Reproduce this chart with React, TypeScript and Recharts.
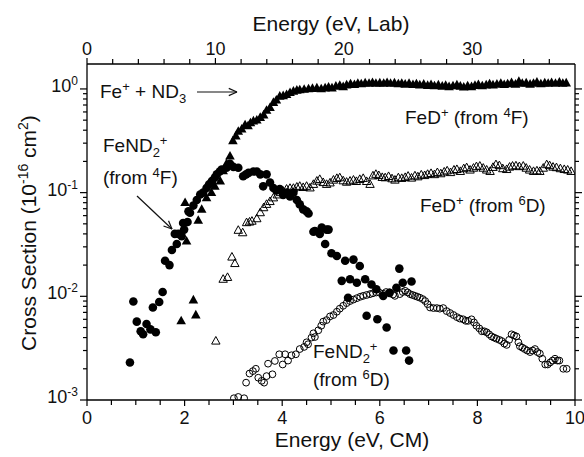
import React from 'react';
import { ScatterChart, Scatter, XAxis, YAxis } from 'recharts';

const FONT = '"Liberation Sans", Arial, Helvetica, sans-serif';

// ---------- data (Energy in eV CM, cross section in 1e-16 cm^2) ----------
// FeD+ from 4F (filled triangles)
const fedQuartetE = [1.93, 2.01, 2.04, 2.18, 2.23, 2.28, 2.35, 2.45, 2.55, 2.62, 2.73, 2.79, 2.86, 2.93, 2.99, 3.05, 3.10, 3.17, 3.24, 3.30, 3.35, 3.41, 3.48, 3.55, 3.62, 3.68, 3.75, 3.82, 3.88, 3.95, 4.02, 4.09, 4.16, 4.23, 4.30, 4.36, 4.45, 4.54, 4.62, 4.71,
  4.80, 4.88, 4.95, 5.02, 5.10, 5.18, 5.25, 5.32, 5.40, 5.48, 5.55, 5.62, 5.70, 5.78, 5.85, 5.92, 6.00, 6.08, 6.15, 6.22, 6.30, 6.38, 6.45, 6.52, 6.60, 6.68, 6.75, 6.82, 6.90, 6.98, 7.05, 7.12, 7.20, 7.28, 7.35, 7.42, 7.50, 7.58, 7.65, 7.72, 7.80, 7.88, 7.95, 8.02, 8.10, 8.18, 8.25, 8.32, 8.40, 8.48, 8.55, 8.62, 8.70, 8.78, 8.85, 8.92, 9.00, 9.08, 9.15, 9.22, 9.30, 9.38, 9.45, 9.52, 9.60, 9.68, 9.75, 9.82];
const fedQuartetSigma = [0.0058, 0.080, 0.034, 0.0092, 0.0066, 0.054, 0.069, 0.089, 0.10, 0.115, 0.129, 0.162, 0.19, 0.225, 0.316, 0.35, 0.39, 0.41, 0.45, 0.44, 0.47, 0.49, 0.50, 0.53, 0.56, 0.62, 0.66, 0.74, 0.78, 0.85, 0.86, 0.88, 0.92, 0.95, 0.97, 0.98, 0.99, 1.00, 1.01, 1.02,
  1.00, 1.02, 1.04, 1.02, 1.06, 1.08, 1.05, 1.09, 1.12, 1.10, 1.13, 1.12, 1.14, 1.13, 1.15, 1.13, 1.14, 1.13, 1.15, 1.13, 1.14, 1.12, 1.13, 1.11, 1.13, 1.10, 1.12, 1.09, 1.11, 1.08, 1.10, 1.07, 1.09, 1.06, 1.08, 1.05, 1.07, 1.09, 1.06, 1.04, 1.07, 1.05, 1.08, 1.10, 1.07, 1.09, 1.12, 1.09, 1.11, 1.13, 1.10, 1.12, 1.15, 1.11, 1.18, 1.13, 1.14, 1.11, 1.13, 1.16, 1.12, 1.14, 1.13, 1.15, 1.13, 1.16, 1.13, 1.14];

// FeD+ from 6D (open triangles)
const fedSextetE = [2.64, 2.79, 2.88, 2.97, 3.03, 3.10, 3.19, 3.27, 3.33, 3.38, 3.48, 3.55, 3.62, 3.68, 3.75, 3.82, 3.90, 3.96, 4.02, 4.09, 4.16, 4.23, 4.30, 4.36, 4.43, 4.50, 4.57, 4.64, 4.71, 4.77, 4.84, 4.91, 4.98, 5.05, 5.12, 5.18, 5.25, 5.32, 5.39, 5.46, 5.52, 5.59, 5.66, 5.73, 5.80, 5.86, 5.92, 5.98, 6.05, 6.11, 6.18, 6.25, 6.31, 6.38, 6.45, 6.52, 6.58, 6.65, 6.72, 6.78, 6.85, 6.92, 6.98, 7.05, 7.12, 7.18, 7.25, 7.32, 7.38, 7.45, 7.52, 7.58, 7.65, 7.72, 7.78, 7.85, 7.92, 7.98, 8.05, 8.12, 8.19, 8.26, 8.32, 8.38, 8.45, 8.52, 8.60, 8.66, 8.72, 8.79, 8.86, 8.94, 9.00, 9.07, 9.15, 9.22, 9.28, 9.35, 9.42, 9.48, 9.55, 9.62, 9.70, 9.78, 9.85, 9.92];
const fedSextetSigma = [0.0037, 0.0146, 0.0152, 0.0239, 0.0207, 0.0433, 0.041, 0.0513, 0.052, 0.053, 0.056, 0.064, 0.0715, 0.077, 0.082, 0.089, 0.095, 0.100, 0.103, 0.108, 0.110, 0.110, 0.113, 0.115, 0.112, 0.115, 0.111, 0.120, 0.129, 0.134, 0.125, 0.120, 0.124, 0.132, 0.137, 0.139, 0.130, 0.126, 0.129, 0.132, 0.128, 0.134, 0.137, 0.128, 0.120, 0.145, 0.150, 0.146, 0.140, 0.139, 0.143, 0.136, 0.132, 0.139, 0.137, 0.140, 0.144, 0.138, 0.145, 0.142, 0.148, 0.146, 0.150, 0.153, 0.149, 0.156, 0.152, 0.158, 0.162, 0.156, 0.165, 0.167, 0.160, 0.170, 0.174, 0.165, 0.172, 0.178, 0.180, 0.172, 0.165, 0.160, 0.175, 0.186, 0.182, 0.170, 0.167, 0.176, 0.180, 0.181, 0.178, 0.180, 0.172, 0.165, 0.160, 0.162, 0.160, 0.172, 0.186, 0.182, 0.176, 0.174, 0.170, 0.167, 0.165, 0.160];

// FeND2+ from 4F (filled circles)
const fend2QuartetE = [0.88, 0.95, 1.02, 1.10, 1.15, 1.22, 1.30, 1.35, 1.41, 1.48, 1.55, 1.60, 1.69, 1.74, 1.80, 1.84, 1.87, 1.94, 1.97, 1.99, 2.06, 2.08, 2.11, 2.18, 2.25, 2.32, 2.38, 2.45, 2.50, 2.56, 2.62, 2.66, 2.72, 2.76, 2.86, 2.93, 3.00, 3.10, 3.20, 3.26, 3.31, 3.41, 3.48, 3.55, 3.61, 3.68, 3.75, 3.82, 3.88, 3.95, 4.02, 4.09, 4.16, 4.23, 4.30, 4.36, 4.43, 4.50, 4.54, 4.64, 4.67, 4.77, 4.81, 4.88, 4.91, 4.95, 5.01, 5.12, 5.22, 5.29, 5.35, 5.39, 5.46, 5.53, 5.59, 5.70, 5.73, 5.83, 5.93, 5.95, 6.07, 6.14, 6.20, 6.28, 6.34, 6.40, 6.47, 6.54, 6.60, 6.65];
const fend2QuartetSigma = [0.0023, 0.0089, 0.0057, 0.0046, 0.0043, 0.0054, 0.0048, 0.0078, 0.0045, 0.0088, 0.011, 0.022, 0.020, 0.028, 0.040, 0.032, 0.040, 0.038, 0.051, 0.044, 0.052, 0.066, 0.064, 0.075, 0.085, 0.096, 0.100, 0.111, 0.120, 0.129, 0.140, 0.150, 0.160, 0.167, 0.174, 0.190, 0.177, 0.174, 0.144, 0.150, 0.155, 0.160, 0.160, 0.150, 0.115, 0.150, 0.125, 0.111, 0.105, 0.108, 0.095, 0.100, 0.092, 0.100, 0.085, 0.077, 0.069, 0.066, 0.063, 0.042, 0.0426, 0.040, 0.046, 0.032, 0.044, 0.044, 0.026, 0.0245, 0.0141, 0.022, 0.0097, 0.0146, 0.0226, 0.0135, 0.0196, 0.0146, 0.0065, 0.013, 0.0117, 0.006, 0.0101, 0.005, 0.0108, 0.003, 0.0121, 0.0185, 0.0135, 0.003, 0.0024, 0.0139];

// FeND2+ from 6D (open circles)
const fend2SextetE = [3.01, 3.10, 3.22, 3.26, 3.33, 3.40, 3.46, 3.51, 3.58, 3.63, 3.68, 3.71, 3.80, 3.85, 3.94, 4.01, 4.06, 4.12, 4.19, 4.28, 4.36, 4.45, 4.50, 4.53, 4.60, 4.64, 4.67, 4.74, 4.80, 4.84, 4.91, 4.98, 5.05, 5.12, 5.18, 5.25, 5.32, 5.39, 5.46, 5.53, 5.60, 5.66, 5.73, 5.80, 5.86, 5.93, 6.00, 6.07, 6.13, 6.20, 6.27, 6.31, 6.41, 6.47, 6.52, 6.57, 6.62, 6.67, 6.72, 6.77, 6.82, 6.88, 6.93, 6.98, 7.03, 7.10, 7.17, 7.23, 7.30, 7.37, 7.44, 7.51, 7.58, 7.64, 7.71, 7.76, 7.81, 7.88, 7.93, 7.98, 8.04, 8.09, 8.14, 8.19, 8.24, 8.29, 8.34, 8.39, 8.45, 8.50, 8.55, 8.60, 8.65, 8.70, 8.75, 8.80, 8.84, 8.87, 8.92, 8.97, 9.02, 9.08, 9.13, 9.18, 9.23, 9.28, 9.33, 9.39, 9.44, 9.49, 9.54, 9.59, 9.64, 9.68, 9.76, 9.83];
const fend2SextetSigma = [0.00104, 0.00107, 0.00104, 0.00147, 0.0018, 0.0019, 0.0020, 0.00164, 0.00153, 0.00147, 0.0017, 0.00224, 0.00177, 0.00238, 0.00276, 0.0022, 0.00276, 0.0024, 0.0027, 0.00276, 0.0031, 0.00325, 0.0036, 0.00345, 0.0040, 0.0044, 0.00405, 0.0047, 0.0052, 0.0057, 0.0059, 0.0064, 0.0066, 0.0071, 0.0076, 0.0081, 0.0086, 0.0090, 0.0093, 0.0096, 0.0099, 0.0101, 0.0103, 0.0105, 0.0107, 0.0109, 0.0108, 0.0106, 0.0110, 0.0109, 0.0104, 0.0101, 0.0105, 0.0110, 0.0113, 0.0109, 0.0105, 0.0103, 0.0101, 0.0099, 0.0097, 0.0094, 0.0090, 0.0084, 0.0078, 0.0077, 0.0077, 0.0076, 0.0077, 0.0072, 0.0069, 0.0066, 0.0063, 0.0061, 0.0060, 0.0058, 0.0058, 0.0060, 0.0056, 0.0052, 0.0049, 0.0046, 0.0046, 0.0045, 0.0043, 0.0041, 0.0040, 0.0039, 0.0038, 0.0037, 0.0035, 0.0034, 0.0038, 0.0043, 0.0042, 0.0041, 0.0036, 0.0033, 0.0032, 0.0031, 0.0030, 0.0029, 0.0030, 0.0031, 0.0029, 0.0028, 0.0025, 0.0022, 0.0022, 0.0023, 0.0024, 0.0025, 0.0024, 0.0024, 0.0020, 0.0020];

// axes
const cmTicks = [0, 0.5, 1, 1.5, 2, 2.5, 3, 3.5, 4, 4.5, 5, 5.5, 6, 6.5, 7, 7.5, 8, 8.5, 9, 9.5, 10];
const cmLabels = [0, 2, 4, 6, 8, 10];
const labTicks = [0, 2, 4, 6, 8, 10, 12, 14, 16, 18, 20, 22, 24, 26, 28, 30, 32, 34, 36];
const labLabels = [0, 10, 20, 30];
const decades = [0.001, 0.01, 0.1, 1];
const Y_MIN = 0.001;
const Y_MAX = 1.74;
const LAB_PER_CM = 3.8;

const yTicks: number[] = [];
decades.forEach((d) => {
  for (let m = 1; m <= 9; m++) {
    const v = Number((d * m).toPrecision(3));
    if (v <= Y_MAX) yTicks.push(v);
  }
});

const zip = (xs: number[], ys: number[]) => xs.map((x, i) => ({ x, y: ys[i] }));
const fedQuartet = zip(fedQuartetE, fedQuartetSigma);
const fedSextet = zip(fedSextetE, fedSextetSigma);
const fend2Quartet = zip(fend2QuartetE, fend2QuartetSigma);
const fend2Sextet = zip(fend2SextetE, fend2SextetSigma);
// same points expressed in lab-frame energy, used only to drive the top axis
const fedQuartetLab = fedQuartet.map((d) => ({ x: d.x * LAB_PER_CM, y: d.y }));

const isMajorLog = (v: number) => Math.abs(Math.log10(v) - Math.round(Math.log10(v))) < 1e-6;

const LeftTick = (p: any) => {
  const { x, y, payload } = p;
  const v = payload.value;
  const major = isMajorLog(v);
  const e = Math.round(Math.log10(v));
  return (
    <g>
      <line x1={x} x2={x - (major ? 7 : 4)} y1={y} y2={y} stroke="#000" strokeWidth={1.2} />
      {major && (
        <text x={x - 9} y={y + 3} textAnchor="end" fontFamily={FONT} fontSize={18} fill="#111">
          10<tspan dy={-7} fontSize={12}>{e}</tspan>
        </text>
      )}
    </g>
  );
};

const RightTick = (p: any) => {
  const { x, y, payload } = p;
  const major = isMajorLog(payload.value);
  return <line x1={x} x2={x + (major ? 7 : 4)} y1={y} y2={y} stroke="#000" strokeWidth={1.2} />;
};

const BottomTick = (p: any) => {
  const { x, y, payload } = p;
  const v = payload.value;
  const lab = cmLabels.includes(v);
  return (
    <g>
      <line x1={x} x2={x} y1={y} y2={y + (lab ? 6 : 5)} stroke="#000" strokeWidth={1.2} />
      {lab && (
        <text x={x} y={y + 24} textAnchor="middle" fontFamily={FONT} fontSize={18} fill="#111">
          {v}
        </text>
      )}
    </g>
  );
};

const TopTick = (p: any) => {
  const { x, y, payload } = p;
  const v = payload.value;
  const lab = labLabels.includes(v);
  return (
    <g>
      <line x1={x} x2={x} y1={y} y2={y - (lab ? 6 : 5)} stroke="#000" strokeWidth={1.2} />
      {lab && (
        <text x={x} y={y - 9} textAnchor="middle" fontFamily={FONT} fontSize={18} fill="#111">
          {v}
        </text>
      )}
    </g>
  );
};

const FilledTriangle = (p: any) => (
  <path d={`M${p.cx},${p.cy - 5.2} L${p.cx + 4.8},${p.cy + 3.4} L${p.cx - 4.8},${p.cy + 3.4} Z`} fill="#000" />
);
const OpenTriangle = (p: any) => (
  <path d={`M${p.cx},${p.cy - 4.6} L${p.cx + 4.2},${p.cy + 3.0} L${p.cx - 4.2},${p.cy + 3.0} Z`} fill="none" stroke="#000" strokeWidth={1} />
);
const FilledCircle = (p: any) => <circle cx={p.cx} cy={p.cy} r={4.3} fill="#000" />;
const OpenCircle = (p: any) => <circle cx={p.cx} cy={p.cy} r={3.4} fill="none" stroke="#000" strokeWidth={1} />;
const NoMark = () => <g />;

const T = (props: any) => <text fontFamily={FONT} fill="#111" {...props} />;

const Arrow = ({ x1, y1, x2, y2 }: any) => {
  const a = Math.atan2(y2 - y1, x2 - x1);
  const L = 9;
  const w = 0.42;
  return (
    <g stroke="#111" strokeWidth={1.2} fill="none">
      <line x1={x1} y1={y1} x2={x2} y2={y2} />
      <line x1={x2} y1={y2} x2={x2 - L * Math.cos(a - w)} y2={y2 - L * Math.sin(a - w)} />
      <line x1={x2} y1={y2} x2={x2 - L * Math.cos(a + w)} y2={y2 - L * Math.sin(a + w)} />
    </g>
  );
};

export default function App() {
  return (
    <div style={{ position: 'absolute', left: 0, top: 0, width: 584, height: 457, background: '#fff' }}>
      <ScatterChart width={584} height={457} margin={{ top: 0, right: 0, bottom: 0, left: 0 }}>
        <XAxis
          xAxisId="bottom"
          dataKey="x"
          type="number"
          domain={[0, 10]}
          ticks={cmTicks}
          interval={0}
          height={57}
          tickSize={0}
          tickMargin={0}
          tickLine={false}
          tick={<BottomTick />}
          axisLine={{ stroke: '#000', strokeWidth: 1.3 }}
          allowDataOverflow
        />
        <XAxis
          xAxisId="top"
          dataKey="x"
          orientation="top"
          type="number"
          domain={[0, 10 * LAB_PER_CM]}
          ticks={labTicks}
          interval={0}
          height={64}
          tickSize={0}
          tickMargin={0}
          tickLine={false}
          tick={<TopTick />}
          axisLine={{ stroke: '#000', strokeWidth: 1.3 }}
          allowDataOverflow
        />
        <YAxis
          yAxisId="left"
          dataKey="y"
          type="number"
          scale="log"
          domain={[Y_MIN, Y_MAX]}
          ticks={yTicks}
          interval={0}
          width={87}
          tickSize={0}
          tickMargin={0}
          tickLine={false}
          tick={<LeftTick />}
          axisLine={{ stroke: '#000', strokeWidth: 1.3 }}
          allowDataOverflow
        />
        <YAxis
          yAxisId="right"
          dataKey="y"
          orientation="right"
          type="number"
          scale="log"
          domain={[Y_MIN, Y_MAX]}
          ticks={yTicks}
          interval={0}
          width={9}
          tickSize={0}
          tickMargin={0}
          tickLine={false}
          tick={<RightTick />}
          axisLine={{ stroke: '#000', strokeWidth: 1.3 }}
          allowDataOverflow
        />
        <Scatter data={fedQuartetLab} xAxisId="top" yAxisId="right" shape={NoMark} isAnimationActive={false} />
        <Scatter data={fend2Sextet} xAxisId="bottom" yAxisId="left" shape={OpenCircle} isAnimationActive={false} />
        <Scatter data={fedSextet} xAxisId="bottom" yAxisId="left" shape={OpenTriangle} isAnimationActive={false} />
        <Scatter data={fend2Quartet} xAxisId="bottom" yAxisId="left" shape={FilledCircle} isAnimationActive={false} />
        <Scatter data={fedQuartet} xAxisId="bottom" yAxisId="left" shape={FilledTriangle} isAnimationActive={false} />
      </ScatterChart>
      <svg width={584} height={457} style={{ position: 'absolute', left: 0, top: 0, pointerEvents: 'none' }}>
        {/* axis titles */}
        <T x={331} y={31} textAnchor="middle" fontSize={21}>Energy (eV, Lab)</T>
        <T x={352} y={447} textAnchor="middle" fontSize={21}>Energy (eV, CM)</T>
        <T x={0} y={0} textAnchor="middle" fontSize={21} transform="translate(36,233) rotate(-90)">
          Cross Section (10<tspan dy={-8} fontSize={14}>-16</tspan>
          <tspan dy={8}> cm</tspan>
          <tspan dy={-8} fontSize={14}>2</tspan>
          <tspan dy={8}>)</tspan>
        </T>
        {/* annotations */}
        <T x={100} y={98} fontSize={19}>
          Fe<tspan dy={-7} fontSize={13}>+</tspan>
          <tspan dy={7}> +  ND</tspan>
          <tspan dy={5} fontSize={13}>3</tspan>
        </T>
        <Arrow x1={197} y1={92} x2={237} y2={92} />
        <T x={103} y={152} fontSize={19}>
          FeND<tspan dy={5} fontSize={13}>2</tspan>
          <tspan dy={-12} fontSize={13}>+</tspan>
        </T>
        <T x={103} y={184} fontSize={19}>
          (from <tspan dy={-7} fontSize={13}>4</tspan>
          <tspan dy={7}>F)</tspan>
        </T>
        <Arrow x1={137} y1={196} x2={172} y2={229} />
        <T x={405} y={124} fontSize={19}>
          FeD<tspan dy={-7} fontSize={13}>+</tspan>
          <tspan dy={7}>  (from </tspan>
          <tspan dy={-7} fontSize={13}>4</tspan>
          <tspan dy={7}>F)</tspan>
        </T>
        <T x={420} y={212} fontSize={19}>
          FeD<tspan dy={-7} fontSize={13}>+</tspan>
          <tspan dy={7}>  (from </tspan>
          <tspan dy={-7} fontSize={13}>6</tspan>
          <tspan dy={7}>D)</tspan>
        </T>
        <T x={313} y={358} fontSize={19}>
          FeND<tspan dy={5} fontSize={13}>2</tspan>
          <tspan dy={-12} fontSize={13}>+</tspan>
        </T>
        <T x={313} y={386} fontSize={19}>
          (from <tspan dy={-7} fontSize={13}>6</tspan>
          <tspan dy={7}>D)</tspan>
        </T>
      </svg>
    </div>
  );
}
